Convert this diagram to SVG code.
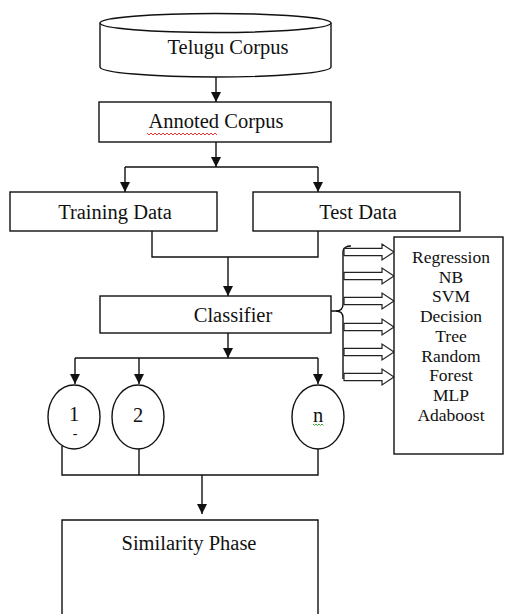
<svg xmlns="http://www.w3.org/2000/svg" width="506" height="614" viewBox="0 0 506 614">
  <style>
    .box { fill: #fff; stroke: #111; stroke-width: 1.4; }
    .lbl { font-family: "Liberation Serif", "Times New Roman", serif; font-size: 20.5px; fill: #111; text-anchor: middle; }
    .alg { font-family: "Liberation Serif", "Times New Roman", serif; font-size: 17.5px; fill: #111; text-anchor: middle; }
    .wire { fill: none; stroke: #111; stroke-width: 1.4; }
    .hollow { fill: #fff; stroke: #222; stroke-width: 1.2; stroke-linejoin: miter; }
  </style>
  <defs>
    <marker id="arrow" viewBox="0 0 10 10" refX="10" refY="5" markerWidth="10" markerHeight="10" markerUnits="userSpaceOnUse" orient="auto">
      <path d="M0,0 L10,5 L0,10 z" fill="#111"/>
    </marker>
    <!-- open block arrow pointing right, tip at origin -->
    <path id="blockArrow" d="M-50,-3.7 H-12 V-8 L0,0 L-12,8 V3.7 H-50 z"/>
  </defs>

  <rect width="506" height="614" fill="#fff"/>

  <!-- connectors -->
  <g id="connectors">
    <path class="wire" d="M216,77 V102" marker-end="url(#arrow)"/>
    <path class="wire" d="M216,142 V167" marker-end="url(#arrow)"/>
    <path class="wire" d="M125,167 H318"/>
    <path class="wire" d="M125,167 V192" marker-end="url(#arrow)"/>
    <path class="wire" d="M318,167 V192" marker-end="url(#arrow)"/>
    <path class="wire" d="M152,231 V257 H318 V231"/>
    <path class="wire" d="M228,257 V296" marker-end="url(#arrow)"/>
    <path class="wire" d="M228,333 V358" marker-end="url(#arrow)"/>
    <path class="wire" d="M75,358 H318"/>
    <path class="wire" d="M75,358 V384" marker-end="url(#arrow)"/>
    <path class="wire" d="M139,358 V384" marker-end="url(#arrow)"/>
    <path class="wire" d="M318,358 V384" marker-end="url(#arrow)"/>
    <path class="wire" d="M62,446 V475 H318 V449"/>
    <path class="wire" d="M139,449 V475"/>
    <path class="wire" d="M202,475 V514" marker-end="url(#arrow)"/>
    <!-- brace fanning out to the algorithm list -->
    <path class="wire" d="M331,311 H336 Q343,311 343,304 V251 Q344,246 351,246"/>
    <path class="wire" d="M336,311 Q343,311 343,318 V379"/>
    <g class="hollow">
      <use href="#blockArrow" transform="translate(394,252)"/>
      <use href="#blockArrow" transform="translate(394,276)"/>
      <use href="#blockArrow" transform="translate(394,301)"/>
      <use href="#blockArrow" transform="translate(394,327)"/>
      <use href="#blockArrow" transform="translate(394,352)"/>
      <use href="#blockArrow" transform="translate(394,377)"/>
    </g>
  </g>

  <!-- source corpus (cylinder) -->
  <g id="telugu-corpus">
    <path class="box" d="M100,23 V67 A115.5,10 0 0 0 331,67 V23"/>
    <ellipse class="box" cx="215.5" cy="23" rx="115.5" ry="9.5"/>
    <text class="lbl" x="228" y="54">Telugu Corpus</text>
  </g>

  <g id="annoted-corpus">
    <rect class="box" x="99" y="102" width="232" height="40"/>
    <text class="lbl" x="216" y="128">Annoted Corpus</text>
    <path d="M147,133 l2,2 l2,-2 l2,2 l2,-2 l2,2 l2,-2 l2,2 l2,-2 l2,2 l2,-2 l2,2 l2,-2 l2,2 l2,-2 l2,2 l2,-2 l2,2 l2,-2 l2,2 l2,-2 l2,2 l2,-2 l2,2 l2,-2 l2,2 l2,-2 l2,2 l2,-2 l2,2 l2,-2 l2,2 l2,-2 l2,2 l2,-2 l2,2" fill="none" stroke="#e02020" stroke-width="0.9"/>
  </g>

  <g id="training-data">
    <rect class="box" x="10" y="192" width="207" height="39"/>
    <text class="lbl" x="115" y="219">Training Data</text>
  </g>

  <g id="test-data">
    <rect class="box" x="253" y="192" width="207" height="39"/>
    <text class="lbl" x="358" y="219">Test Data</text>
  </g>

  <g id="classifier">
    <rect class="box" x="100" y="296" width="231" height="37"/>
    <text class="lbl" x="233" y="322">Classifier</text>
  </g>

  <g id="algorithms">
    <rect class="box" x="394" y="237" width="109" height="217"/>
    <text class="alg" x="451" y="263">Regression</text>
    <text class="alg" x="451" y="282.7">NB</text>
    <text class="alg" x="451" y="302.4">SVM</text>
    <text class="alg" x="451" y="322.1">Decision</text>
    <text class="alg" x="451" y="341.8">Tree</text>
    <text class="alg" x="451" y="361.5">Random</text>
    <text class="alg" x="451" y="381.2">Forest</text>
    <text class="alg" x="451" y="400.9">MLP</text>
    <text class="alg" x="451" y="420.6">Adaboost</text>
  </g>

  <g id="model-1">
    <ellipse class="box" cx="74" cy="417" rx="26" ry="32"/>
    <text class="lbl" x="74" y="421">1</text>
    <text class="lbl" x="75" y="438" style="font-size:14px">-</text>
  </g>

  <g id="model-2">
    <ellipse class="box" cx="138" cy="417" rx="26" ry="32"/>
    <text class="lbl" x="138" y="421.5">2</text>
  </g>

  <g id="model-n">
    <ellipse class="box" cx="318" cy="417" rx="26" ry="32"/>
    <text class="lbl" x="318" y="421.5">n</text>
    <path d="M313,424 l1.5,1.5 l1.5,-1.5 l1.5,1.5 l1.5,-1.5 l1.5,1.5 l1.5,-1.5 l1.5,1.5" fill="none" stroke="#2a9a2a" stroke-width="0.9"/>
  </g>

  <g id="similarity-phase">
    <path class="box" d="M62,616 V520 H318 V616"/>
    <text class="lbl" x="189" y="550">Similarity Phase</text>
  </g>
</svg>
